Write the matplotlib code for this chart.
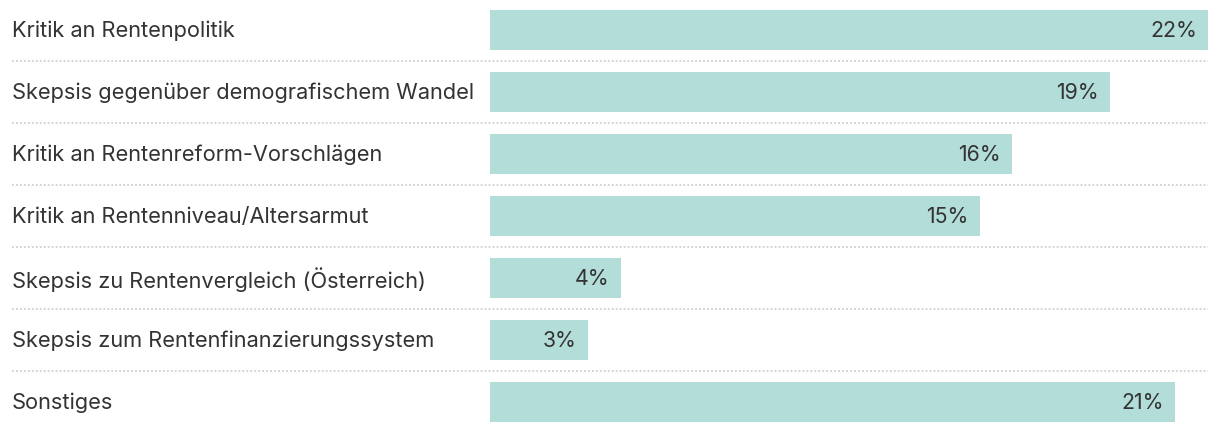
import matplotlib
matplotlib.use("Agg")
import matplotlib.pyplot as plt
from matplotlib.transforms import blended_transform_factory

categories = [
    "Kritik an Rentenpolitik",
    "Skepsis gegenüber demografischem Wandel",
    "Kritik an Rentenreform-Vorschlägen",
    "Kritik an Rentenniveau/Altersarmut",
    "Skepsis zu Rentenvergleich (Österreich)",
    "Skepsis zum Rentenfinanzierungssystem",
    "Sonstiges",
]
values = [22, 19, 16, 15, 4, 3, 21]
value_labels = ["22%", "19%", "16%", "15%", "4%", "3%", "21%"]

W, H = 1220, 432
fig = plt.figure(figsize=(W / 100, H / 100), dpi=100)
ax = fig.add_axes([490 / W, 0, (1208 - 490) / W, 1])
ax.set_axis_off()

n = len(categories)
pitch = 62
ax.set_xlim(0, max(values))
ax.set_ylim(n - 1 + (H - 402) / pitch, -30 / pitch)

ys = list(range(n))
ax.barh(ys, values, height=40 / pitch, color="#b3ddd8", left=0)

font = "Inter"
fs = 15.7
trans = blended_transform_factory(fig.transFigure, ax.transData)
for y, v, lab, cat in zip(ys, values, value_labels, categories):
    ax.text(v - 11 * max(values) / (1208 - 490), y + 0.02, lab, ha="right", va="center",
            fontsize=15.3, color="#333333", family=font)
    fig.text(12 / W, y + 0.02, cat, transform=trans,
             ha="left", va="center", fontsize=fs, color="#333333", family=font)

for i in range(n - 1):
    ax.plot([12 / W, 1208 / W], [i + 0.5, i + 0.5], transform=trans, clip_on=False,
            color="#d0d0d0", linewidth=1.3, linestyle=(0, (1.0, 1.2)))

fig.savefig("out.png", dpi=100)
